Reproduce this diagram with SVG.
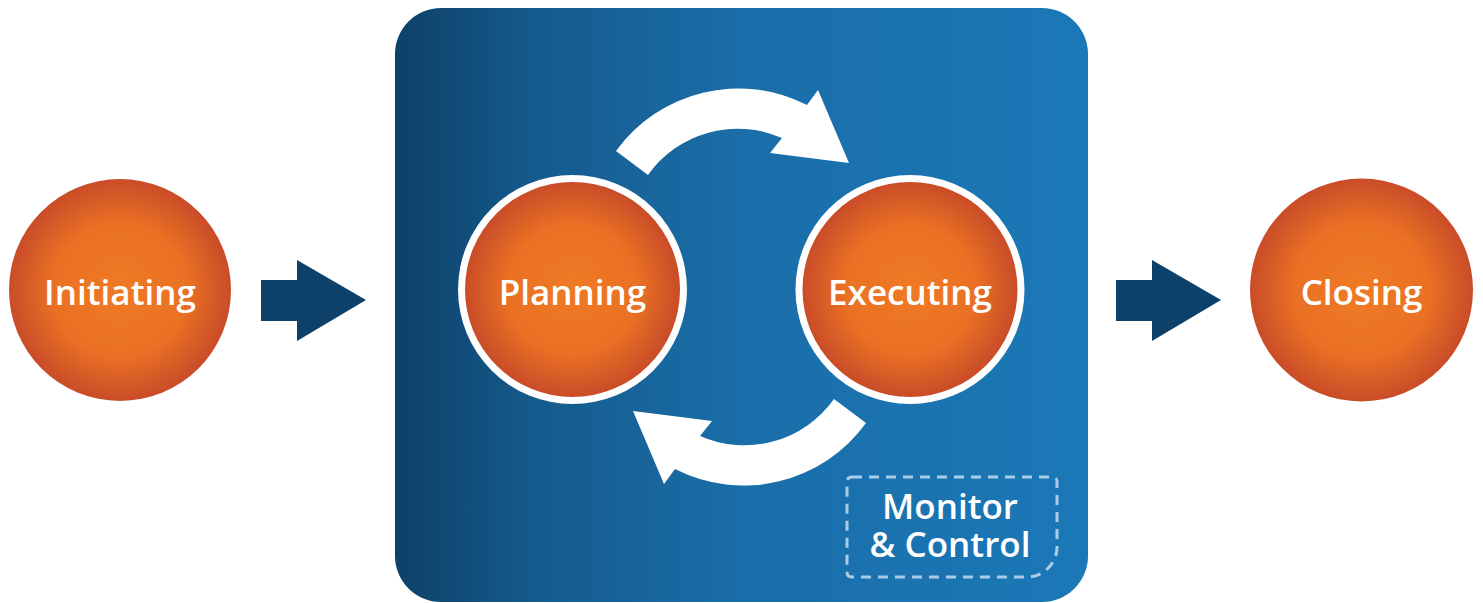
<svg xmlns="http://www.w3.org/2000/svg" width="1483" height="603" viewBox="0 0 1483 603">
<defs>
<radialGradient id="orange" cx="0.5" cy="0.5" r="0.5">
<stop offset="0" stop-color="#ef7a24"/>
<stop offset="0.6" stop-color="#ea7124"/>
<stop offset="1" stop-color="#c94c28"/>
</radialGradient>
<linearGradient id="boxg" x1="0" y1="0" x2="1" y2="0">
<stop offset="0" stop-color="#0d4168"/>
<stop offset="0.2" stop-color="#155a8c"/>
<stop offset="0.5" stop-color="#1a6ea9"/>
<stop offset="1" stop-color="#1b78b7"/>
</linearGradient>
<style>
.lbl{font-family:"Open Sans","Liberation Sans",sans-serif;font-weight:600;font-size:35px;fill:#ffffff;text-anchor:middle}
.mc{font-family:"Open Sans","Liberation Sans",sans-serif;font-weight:600;font-size:35px;fill:#ffffff;text-anchor:middle}
.blk{fill:#0d4169}
.cyc{fill:#ffffff}
</style>
</defs>
<rect id="phase-box" x="395" y="8" width="693" height="594" rx="46" ry="46" fill="url(#boxg)"/>
<g id="connectors">
<path class="blk" d="M261 280 H297 V260 L366 300 L297 341 V321 H261 Z"/>
<path class="blk" d="M1116 280 H1152 V260 L1221 300 L1152 341 V321 H1116 Z"/>
<path id="cycle-top" class="cyc" d="M616 151 A151 151 0 0 1 807 105 L818 90 L849 163 L770 153 L782 138 A110 110 0 0 0 648 175 Z"/>
<path id="cycle-bottom" class="cyc" transform="rotate(180 741 287)" d="M616 151 A151 151 0 0 1 807 105 L818 90 L849 163 L770 153 L782 138 A110 110 0 0 0 648 175 Z"/>
</g>
<g id="initiating">
<circle cx="120" cy="290" r="111" fill="url(#orange)"/>
<text class="lbl" x="120" y="305">Initiating</text>
</g>
<g id="planning">
<circle cx="572.5" cy="289.5" r="114.5" fill="#ffffff"/>
<circle cx="572.5" cy="289.5" r="107.5" fill="url(#orange)"/>
<text class="lbl" x="572.5" y="305">Planning</text>
</g>
<g id="executing">
<circle cx="910" cy="289.5" r="114.5" fill="#ffffff"/>
<circle cx="910" cy="289.5" r="107.5" fill="url(#orange)"/>
<text class="lbl" x="910" y="305">Executing</text>
</g>
<g id="closing">
<circle cx="1361.5" cy="290" r="111.5" fill="url(#orange)"/>
<text class="lbl" x="1361.5" y="305">Closing</text>
</g>
<g id="monitor-control">
<path d="M852 477 H1052 Q1057 477 1057 482 V547 A30 30 0 0 1 1027 577 H852 Q847 577 847 572 V482 Q847 477 852 477 Z" fill="none" stroke="#a9cde9" stroke-width="3" stroke-dasharray="10 7"/>
<text class="mc" x="950" y="519">Monitor</text>
<text class="mc" x="950" y="557">&amp; Control</text>
</g>
</svg>
